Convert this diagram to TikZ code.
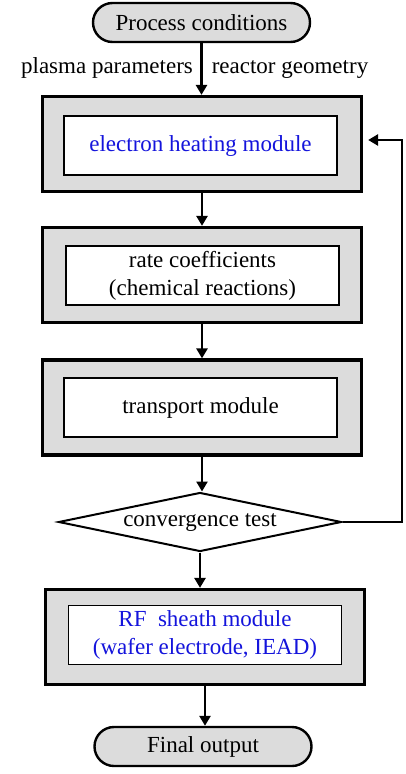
\documentclass[tikz,border=0pt]{standalone}
\usepackage{fontspec}
\setmainfont{Liberation Serif}
\usetikzlibrary{arrows.meta,shapes.geometric,shapes.misc}
\definecolor{boxgray}{RGB}{220,220,220}
\definecolor{modblue}{RGB}{20,20,220}

\begin{document}
\begin{tikzpicture}[x=1pt,y=-1pt,
    every node/.style={font=\fontsize{23}{28}\selectfont},
    outerbox/.style={draw,fill=boxgray,line width=3.2pt,minimum width=319pt,minimum height=95pt},
    innerbox/.style={draw,fill=white,line width=1.8pt,minimum width=273pt,minimum height=59pt,align=center,inner sep=0pt},
    terminal/.style={draw,fill=boxgray,rounded rectangle,line width=2.4pt,minimum width=217pt,minimum height=39pt,inner sep=0pt},
    decision/.style={draw,fill=white,diamond,aspect=4.7,line width=2pt,minimum width=283pt,minimum height=59pt,inner sep=0pt},
    flow/.style={line width=2.6pt,-{Triangle[width=11pt,length=10pt]}}]
    \useasboundingbox (0,0) rectangle (405,774);

    \node[terminal] (start) at (201.5,22.5) {Process conditions};
    \node[anchor=base] (plasma) at (107,73) {plasma parameters};
    \node[anchor=base] (geom) at (290,73) {reactor geometry};

    \node[outerbox] (heatbox) at (202,144) {};
    \node[innerbox,text=modblue] (heat) at (200.5,145.5) {electron heating module};
    \node[outerbox] (ratebox) at (202,275) {};
    \node[innerbox] (rate) at (202.5,275.5) {rate coefficients\\(chemical reactions)};
    \node[outerbox] (transbox) at (202,407.5) {};
    \node[innerbox] (trans) at (200.5,407.5) {transport module};
    \node[decision] (conv) at (200,522) {convergence test};
    \node[outerbox] (sheathbox) at (205,637) {};
    \node[innerbox,text=modblue] (sheath) at (205,635) {RF\ \ sheath module\\(wafer electrode, IEAD)};
    \node[terminal] (final) at (203,746.5) {Final output};

    \draw[flow] (start.south) -- (start.south |- heatbox.north);
    \draw[flow] (heatbox.south) -- (ratebox.north);
    \draw[flow] (ratebox.south) -- (transbox.north);
    \draw[flow] (transbox.south) -- (transbox.south |- conv.north);
    \draw[flow] (conv.south) -- (conv.south |- sheathbox.north);
    \draw[flow] (sheathbox.south) -- (sheathbox.south |- final.north);

    % feedback loop
    \coordinate (loopcorner) at (402,522);
    \coordinate (looptop) at (402,140);
    \draw[flow,shorten >=5pt] (conv.east) -- (loopcorner) -- (looptop) -- (looptop -| heatbox.east);
\end{tikzpicture}
\end{document}
